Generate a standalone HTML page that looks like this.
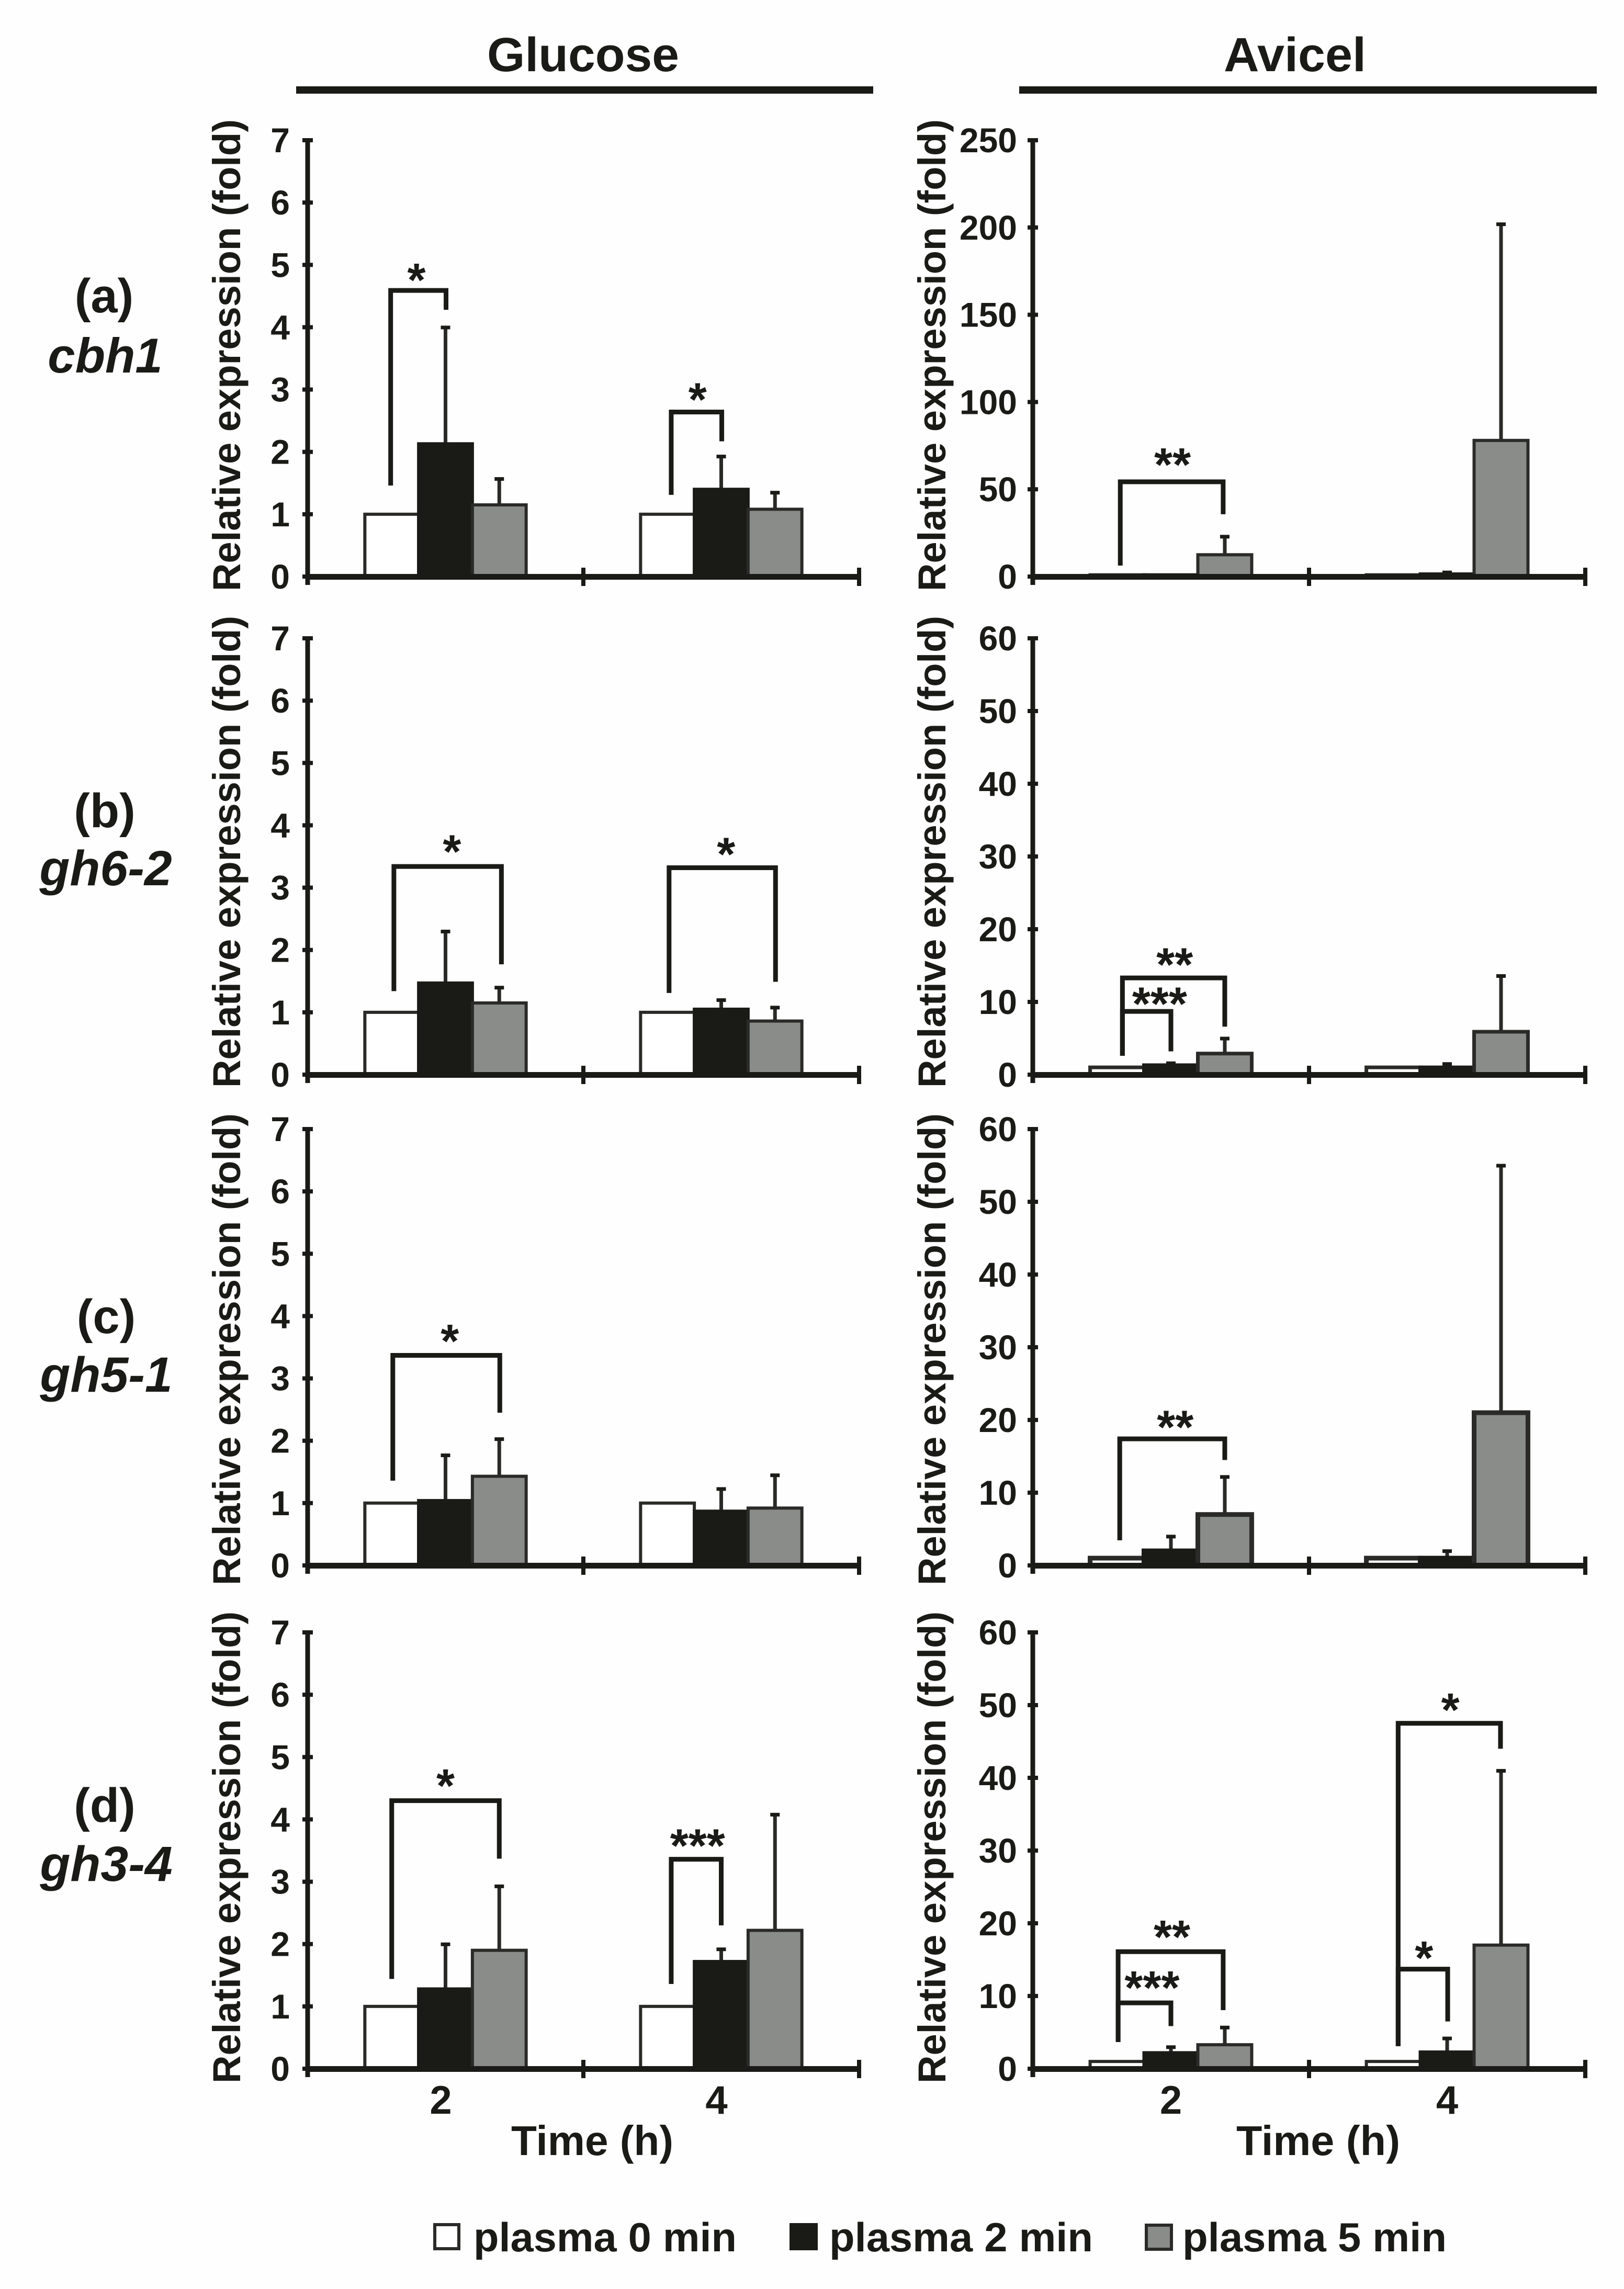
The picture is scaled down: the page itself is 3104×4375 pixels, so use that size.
<!DOCTYPE html>
<html lang="en">
<head>
<meta charset="utf-8">
<title>Relative expression after plasma treatment</title>
<style>
html,body{margin:0;padding:0;background:#fefefe;}
svg{display:block;}
text{font-family:"Liberation Sans",sans-serif;font-weight:bold;fill:#1a1a16;}
</style>
</head>
<body>
<svg id="figure" xmlns="http://www.w3.org/2000/svg" width="3104" height="4375" viewBox="0 0 3104 4375">
  <rect x="0" y="0" width="3104" height="4375" fill="#fefefe"/>

  <text x="931" y="136" font-size="92" textLength="367" lengthAdjust="spacingAndGlyphs">Glucose</text>
  <rect x="566" y="165" width="1103" height="14" fill="#1a1a16"/>
  <text x="2339" y="136" font-size="92" textLength="272" lengthAdjust="spacingAndGlyphs">Avicel</text>
  <rect x="1948" y="165" width="1104" height="14" fill="#1a1a16"/>

  <text x="199" y="597" font-size="92" text-anchor="middle">(a)</text>
  <text x="201" y="712" font-size="94" font-style="italic" text-anchor="middle">cbh1</text>
  <text x="200" y="1581" font-size="92" text-anchor="middle">(b)</text>
  <text x="202" y="1692" font-size="95" font-style="italic" text-anchor="middle">gh6-2</text>
  <text x="203" y="2548" font-size="92" text-anchor="middle">(c)</text>
  <text x="203" y="2660" font-size="95" font-style="italic" text-anchor="middle">gh5-1</text>
  <text x="200" y="3482" font-size="92" text-anchor="middle">(d)</text>
  <text x="203" y="3595" font-size="95" font-style="italic" text-anchor="middle">gh3-4</text>

  <text x="977" y="4119" font-size="80" textLength="310" lengthAdjust="spacingAndGlyphs">Time (h)</text>
  <text x="2363" y="4119" font-size="80" textLength="313" lengthAdjust="spacingAndGlyphs">Time (h)</text>

  <g>
    <rect x="831" y="4252" width="46" height="46" fill="#ffffff" stroke="#2a2a28" stroke-width="6"/>
    <text x="905" y="4303" font-size="78" textLength="503" lengthAdjust="spacingAndGlyphs">plasma 0 min</text>
    <rect x="1512" y="4252" width="48" height="46" fill="#1a1a16" stroke="#1a1a16" stroke-width="6"/>
    <text x="1585" y="4303" font-size="78" textLength="504" lengthAdjust="spacingAndGlyphs">plasma 2 min</text>
    <rect x="2191" y="4253" width="48" height="46" fill="#8a8c8a" stroke="#2a2a28" stroke-width="6"/>
    <text x="2260" y="4303" font-size="78" textLength="505" lengthAdjust="spacingAndGlyphs">plasma 5 min</text>
  </g>
</svg>

<script>
// ---- data ----
const timeCategories = ["2", "4"];
const seriesKeys = ["plasma-0", "plasma-2", "plasma-5"];
const glucoseTicks = [0, 1, 2, 3, 4, 5, 6, 7];
const avicelCbh1Ticks = [0, 50, 100, 150, 200, 250];
const avicelTicks = [0, 10, 20, 30, 40, 50, 60];
const yAxisTitle = "Relative expression (fold)";

// means: one row per time category, one value per series
const cbh1GlucoseMeans = [[1, 2.13, 1.15], [1, 1.4, 1.08]];
const cbh1GlucoseErrTops = [[null, 4.0, 1.57], [null, 1.93, 1.35]];
const cbh1AvicelMeans = [[1, 1, 12.5], [1, 1.5, 78]];
const cbh1AvicelErrTops = [[null, null, 23], [null, 2.5, 202]];

const gh62GlucoseMeans = [[1, 1.47, 1.15], [1, 1.05, 0.86]];
const gh62GlucoseErrTops = [[null, 2.3, 1.4], [null, 1.2, 1.08]];
const gh62AvicelMeans = [[1, 1.3, 2.9], [1, 1, 5.9]];
const gh62AvicelErrTops = [[null, 1.6, 5], [null, 1.5, 13.6]];

const gh51GlucoseMeans = [[1, 1.04, 1.43], [1, 0.87, 0.92]];
const gh51GlucoseErrTops = [[null, 1.77, 2.03], [null, 1.23, 1.45]];
const gh51AvicelMeans = [[1, 2, 7], [1, 1, 21]];
const gh51AvicelErrTops = [[null, 4, 12.2], [null, 2, 55]];

const gh34GlucoseMeans = [[1, 1.28, 1.9], [1, 1.72, 2.22]];
const gh34GlucoseErrTops = [[null, 2.0, 2.93], [null, 1.92, 4.08]];
const gh34AvicelMeans = [[1, 2.2, 3.3], [1, 2.3, 17]];
const gh34AvicelErrTops = [[null, 3, 5.7], [null, 4.2, 41]];

// significance brackets: group, from/to in bar widths from group centre,
// top/fromEnd/toEnd/labelValue in axis units
const cbh1GlucoseBrackets = [
  {group:0, from:-1.02, to:0.01, top:4.59, fromEnd:1.46, toEnd:4.28, label:"*", labelAt:-0.54, labelValue:4.86},
  {group:1, from:-0.93, to:0.01, top:2.64, fromEnd:1.31, toEnd:2.17, label:"*", labelAt:-0.44, labelValue:2.94}
];
const cbh1AvicelBrackets = [
  {group:0, from:-0.94, to:0.97, top:54.3, fromEnd:6.3, toEnd:35.7, label:"**", labelAt:0.03, labelValue:67.7}
];
const gh62GlucoseBrackets = [
  {group:0, from:-0.96, to:1.04, top:3.34, fromEnd:1.34, toEnd:1.77, label:"*", labelAt:0.12, labelValue:3.68},
  {group:1, from:-0.97, to:1.01, top:3.32, fromEnd:1.31, toEnd:1.49, label:"*", labelAt:0.09, labelValue:3.64}
];
const gh62AvicelBrackets = [
  {group:0, from:-0.9, to:1.0, top:13.3, fromEnd:2.6, toEnd:6.6, label:"**", labelAt:0.07, labelValue:16},
  {group:0, from:-0.9, to:0, top:8.7, fromEnd:2.6, toEnd:3.2, label:"***", labelAt:-0.21, labelValue:10.6}
];
const gh51GlucoseBrackets = [
  {group:0, from:-0.98, to:1.01, top:3.37, fromEnd:1.36, toEnd:2.45, label:"*", labelAt:0.08, labelValue:3.7}
];
const gh51AvicelBrackets = [
  {group:0, from:-0.95, to:1.0, top:17.4, fromEnd:3.45, toEnd:14.5, label:"**", labelAt:0.08, labelValue:19.9}
];
const gh34GlucoseBrackets = [
  {group:0, from:-1.0, to:1.0, top:4.3, fromEnd:1.44, toEnd:3.37, label:"*", labelAt:0, labelValue:4.64},
  {group:1, from:-0.93, to:0, top:3.36, fromEnd:1.36, toEnd:2.3, label:"***", labelAt:-0.44, labelValue:3.68}
];
const gh34AvicelBrackets = [
  {group:0, from:-0.98, to:0.97, top:16.1, fromEnd:3.67, toEnd:8.06, label:"**", labelAt:0.02, labelValue:19},
  {group:0, from:-0.98, to:0, top:9.06, fromEnd:3.67, toEnd:5.86, label:"***", labelAt:-0.35, labelValue:12},
  {group:1, from:-0.91, to:0.99, top:47.5, fromEnd:3.1, toEnd:44, label:"*", labelAt:0.06, labelValue:50.2},
  {group:1, from:-0.91, to:0.01, top:13.7, fromEnd:3.1, toEnd:6.5, label:"*", labelAt:-0.43, labelValue:16.1}
];

// ---- layout (not data) ----
const leftFrame = {axisX:588, plotW:1054, tickRight:554, titleX:459, catOffset:[-9, -9]};
const rightFrame = {axisX:1974, plotW:1056, tickRight:1944, titleX:1807, catOffset:[0, 0]};
const plotH = 834;
const INK = "#1a1a16";
const EDGE = "#2a2a28";
const FILLS = ["#ffffff", INK, "#8a8c8a"];
const EDGES = [EDGE, INK, EDGE];

const panels = [
  {name:"cbh1-glucose", frame:leftFrame, y0:1102, titleC:679, ticks:glucoseTicks, means:cbh1GlucoseMeans, errs:cbh1GlucoseErrTops, brackets:cbh1GlucoseBrackets, edge:6},
  {name:"cbh1-avicel", frame:rightFrame, y0:1102, titleC:679, ticks:avicelCbh1Ticks, means:cbh1AvicelMeans, errs:cbh1AvicelErrTops, brackets:cbh1AvicelBrackets, edge:6},
  {name:"gh6-2-glucose", frame:leftFrame, y0:2054, titleC:1628, ticks:glucoseTicks, means:gh62GlucoseMeans, errs:gh62GlucoseErrTops, brackets:gh62GlucoseBrackets, edge:6},
  {name:"gh6-2-avicel", frame:rightFrame, y0:2054, titleC:1628, ticks:avicelTicks, means:gh62AvicelMeans, errs:gh62AvicelErrTops, brackets:gh62AvicelBrackets, edge:7},
  {name:"gh5-1-glucose", frame:leftFrame, y0:2992, titleC:2579, ticks:glucoseTicks, means:gh51GlucoseMeans, errs:gh51GlucoseErrTops, brackets:gh51GlucoseBrackets, edge:6},
  {name:"gh5-1-avicel", frame:rightFrame, y0:2992, titleC:2579, ticks:avicelTicks, means:gh51AvicelMeans, errs:gh51AvicelErrTops, brackets:gh51AvicelBrackets, edge:9},
  {name:"gh3-4-glucose", frame:leftFrame, y0:3954, titleC:3531, ticks:glucoseTicks, means:gh34GlucoseMeans, errs:gh34GlucoseErrTops, brackets:gh34GlucoseBrackets, edge:6, showCats:true},
  {name:"gh3-4-avicel", frame:rightFrame, y0:3954, titleC:3531, ticks:avicelTicks, means:gh34AvicelMeans, errs:gh34AvicelErrTops, brackets:gh34AvicelBrackets, edge:6, showCats:true}
];

// ---- drawing ----
const SVGNS = "http://www.w3.org/2000/svg";
const figure = document.getElementById("figure");

function make(tag, parent, props) {
  const el = document.createElementNS(SVGNS, tag);
  for (const k in props) el.setAttribute(k, props[k]);
  parent.appendChild(el);
  return el;
}

function drawPanel(p) {
  const f = p.frame;
  const maxV = p.ticks[p.ticks.length - 1];
  const yScale = v => p.y0 - (v / maxV) * plotH;
  const groupW = f.plotW / timeCategories.length;
  const barW = groupW * 0.195;
  const groupX = g => f.axisX + (g + 0.5) * groupW;
  const barX = (g, s) => groupX(g) + (s - 1) * barW;

  const g = make("g", figure, {});
  
  

  // y axis title
  const title = make("text", g, {
    transform: "translate(" + f.titleX + "," + p.titleC + ") rotate(-90)",
    "text-anchor": "middle", "font-size": 74,
    textLength: 902, lengthAdjust: "spacingAndGlyphs"
  });
  
  
  title.textContent = yAxisTitle;

  // error bars (behind bars)
  p.errs.forEach((row, gi) => row.forEach((top, si) => {
    if (top === null) return;
    const cx = barX(gi, si);
    const stem = make("rect", g, {x: cx - 3.5, y: yScale(top), width: 7, height: yScale(p.means[gi][si]) - yScale(top), fill: EDGE});
    
    
    const cap = make("rect", g, {x: cx - 9, y: yScale(top) - 3, width: 18, height: 7, fill: INK});
    
    
  }));

  // bars
  p.means.forEach((row, gi) => row.forEach((v, si) => {
    const cx = barX(gi, si);
    const bar = make("rect", g, {
      x: cx - barW / 2, y: yScale(v), width: barW, height: p.y0 - yScale(v),
      fill: FILLS[si], stroke: EDGES[si], "stroke-width": p.edge
    });
    
    
  }));

  // significance brackets
  p.brackets.forEach(b => {
    const x1 = groupX(b.group) + b.from * barW;
    const x2 = groupX(b.group) + b.to * barW;
    const line = make("polyline", g, {
      points: x1 + "," + yScale(b.fromEnd) + " " + x1 + "," + yScale(b.top) + " " + x2 + "," + yScale(b.top) + " " + x2 + "," + yScale(b.toEnd),
      fill: "none", stroke: INK, "stroke-width": 9, "stroke-linejoin": "miter"
    });
    
    
    const star = make("text", g, {
      x: groupX(b.group) + b.labelAt * barW, y: yScale(b.labelValue) + 43,
      "font-size": 90, "text-anchor": "middle"
    });
    
    
    star.textContent = b.label;
  });

  // y axis
  const yAxis = make("rect", g, {x: f.axisX - 4.5, y: p.y0 - plotH, width: 9, height: plotH + 16, fill: INK});
  
  
  p.ticks.forEach(t => {
    const tick = make("rect", g, {x: f.axisX - 10, y: yScale(t) - 4, width: 20, height: 8, fill: INK});
    
    
    const lab = make("text", g, {x: f.tickRight, y: yScale(t) + 23, "font-size": 66, "text-anchor": "end"});
    
    
    lab.textContent = String(t);
  });

  // x axis
  const xAxis = make("rect", g, {x: f.axisX - 4, y: p.y0 - 5, width: f.plotW + 8, height: 11, fill: INK});
  
  
  for (let i = 1; i <= timeCategories.length; i++) {
    const tx = f.axisX + i * groupW;
    const tick = make("rect", g, {x: tx - 4, y: p.y0 - 17, width: 8, height: 35, fill: INK});
    
    
  }
  if (p.showCats) {
    timeCategories.forEach((c, gi) => {
      const lab = make("text", g, {x: groupX(gi) + f.catOffset[gi], y: 4040, "font-size": 76, "text-anchor": "middle"});
      
      
      lab.textContent = c;
    });
  }
}

panels.forEach(drawPanel);
</script>
</body>
</html>
